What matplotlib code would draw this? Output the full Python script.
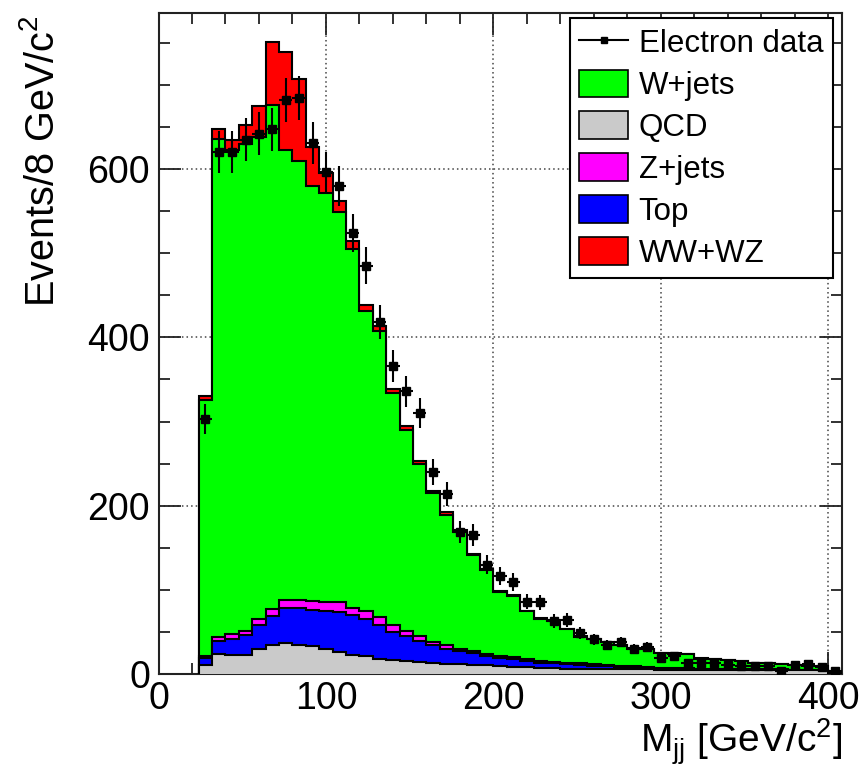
import numpy as np
import matplotlib
matplotlib.use("Agg")
import matplotlib.pyplot as plt
from matplotlib.patches import Patch
from matplotlib.lines import Line2D
from matplotlib.ticker import MultipleLocator

plt.rcParams['font.family'] = ['Liberation Sans', 'DejaVu Sans']
plt.rcParams['mathtext.fontset'] = 'custom'
plt.rcParams['mathtext.rm'] = 'Liberation Sans'
plt.rcParams['mathtext.it'] = 'Liberation Sans:italic'
plt.rcParams['mathtext.bf'] = 'Liberation Sans:bold'

# ---- binning (GeV/c^2) ----
bin_low = 24
bin_width = 8
n_bins = 48

# ---- stacked MC components (events / bin) ----
qcd = [11, 24, 22, 22, 30, 34, 36.4, 35, 33, 30, 26, 23, 21, 18, 17, 15,
       14, 13, 12.3, 12, 11, 11, 9.5, 8.7, 7.9, 7.1, 6.7, 6.5, 6, 6, 5.8, 5.5,
       5.5, 5.5, 5, 5, 5, 5, 5, 4.8, 4.8, 4.5, 4.5, 4.5, 4.5, 4.3, 4.3, 1.5]
top = [8, 15, 20, 24, 28.6, 34.5, 42.6, 44, 43.4, 45, 47.7, 46.7, 44, 40.6, 33, 29.8,
       25.6, 21, 17.7, 15, 14, 10, 9.1, 8.7, 7.5, 6.4, 6, 5, 4.7, 4, 3.7, 3.2,
       3, 2, 1.5, 1.5, 1.2, 1, 1, 1, 0.8, 0.8, 0.8, 0.7, 0.6, 0.6, 0.6, 0.3]
zjets = [2, 5, 5.5, 5.5, 6.4, 9.1, 9, 9, 10.6, 11, 11.3, 8.7, 10, 8.7, 7.8, 5.9,
         5.2, 4, 4, 2.7, 2, 2.8, 2.8, 2.4, 2, 2.3, 2, 2, 2, 1.9, 1.2, 0.8,
         0.5, 0.5, 0.5, 0.4, 0.4, 0.3, 0.3, 0.3, 0.3, 0.3, 0.3, 0.2, 0.2, 0.2, 0.2, 0.1]
wjets = [304, 592, 574.5, 578.5, 573, 598.4, 534, 521, 493, 486, 464, 426, 356, 340.7, 275.7, 239.3,
         205.2, 177.4, 155, 139.3, 114, 99.2, 76.6, 73.2, 57.1, 49.7, 48.8, 40, 31.8, 29.6, 27.3, 24.5,
         21, 21.5, 18, 17.4, 17, 12.1, 11.3, 10.3, 9.3, 7, 7, 6, 5.3, 4.3, 4.3, 0.9]
wwwz = [5, 11, 12, 22, 37, 75, 117, 98, 46, 23, 13, 10.5, 7, 5, 5, 4.6,
        2.7, 2.4, 3.5, 2, 1.6, 1.4, 1, 1, 0.7, 0.5, 0.5, 0.5, 0.5, 0.5, 0.4, 0.5,
        0.5, 0.2, 0.3, 0.3, 0.2, 0.2, 0.2, 0.2, 0.2, 0.1, 0.1, 0.1, 0.1, 0.1, 0.1, 0.0]

# ---- electron data ----
data = [303, 620, 620, 635, 642, 647, 682, 684, 631, 596, 580, 524, 485, 418, 366, 336,
        310, 240, 214, 169, 165, 130, 116, 109, 86, 85, 63, 64, 49, 41, 35, 38,
        30, 32, 19, 21, 13, 13, 13, 11, 9, 10, 10, 4, 11, 12, 8, 4]

labels = ['W+jets', 'QCD', 'Z+jets', 'Top', 'WW+WZ']
colors = {'W+jets': '#00ff00', 'QCD': '#cacaca', 'Z+jets': '#ff00ff',
          'Top': '#0000ff', 'WW+WZ': '#ff0000'}

edges = bin_low + bin_width * np.arange(n_bins + 1)
centers = 0.5 * (edges[:-1] + edges[1:])

W, H = 867, 771
fig = plt.figure(figsize=(W / 100, H / 100), dpi=100)
ax = fig.add_axes([158.5 / W, 1 - 674 / H, (841.7 - 158.5) / W, (674 - 13.3) / H])

# cumulative stack (bottom -> top: QCD, Top, Z+jets, W+jets, WW+WZ)
stack_order = [('QCD', qcd), ('Top', top), ('Z+jets', zjets), ('W+jets', wjets), ('WW+WZ', wwwz)]
cum = np.zeros(n_bins)
cums = []
for name, vals in stack_order:
    cum = cum + np.asarray(vals, dtype=float)
    cums.append((name, cum.copy()))

for i, (name, c) in enumerate(reversed(cums)):
    ax.stairs(c, edges, baseline=0, fill=True, facecolor=colors[name],
              edgecolor='black', linewidth=1.5, zorder=2 + i)

d = np.asarray(data, dtype=float)
ax.errorbar(centers, d, xerr=bin_width / 2, yerr=np.sqrt(d), fmt='s', color='black',
            ms=6, elinewidth=1.5, capsize=0, zorder=20)

ax.set_xlim(0, 408)
ax.set_ylim(0, 785)
ax.xaxis.set_major_locator(MultipleLocator(100))
ax.xaxis.set_minor_locator(MultipleLocator(20))
ax.yaxis.set_major_locator(MultipleLocator(200))
ax.yaxis.set_minor_locator(MultipleLocator(50))
ax.grid(True, which='major', color='#444444', linestyle=(0, (1, 2)), linewidth=1.1, zorder=0)
ax.set_axisbelow(True)

ax.tick_params(which='both', direction='in', top=True, right=True, width=1.3,
               labelsize=27, color='#222222')
ax.tick_params(which='major', length=16)
ax.tick_params(which='minor', length=8)
ax.tick_params(axis='y', which='both', pad=6)
ax.tick_params(axis='x', which='both', pad=5)
for s in ax.spines.values():
    s.set_linewidth(1.5)
    s.set_color('#222222')

ax.set_ylabel('Events/8 GeV/c$^{2}$', fontsize=28.5, loc='top')
ax.yaxis.set_label_coords(-0.141, 0.997)
ax.set_xlabel('M$_{\\mathrm{jj}}$ [GeV/c$^{2}$]', fontsize=28, loc='right')
ax.xaxis.set_label_coords(1.0, -0.064)

handles = [Line2D([0], [0], color='black', marker='s', ms=5, lw=1.5)]
handles += [Patch(facecolor=colors[l], edgecolor='black', linewidth=1.2) for l in labels]
leg = ax.legend(handles, ['Electron data'] + labels, loc='upper right',
                bbox_to_anchor=(832.7 / W, 1 - 18.3 / H), bbox_transform=fig.transFigure,
                fontsize=22.5, frameon=True, fancybox=False, edgecolor='black', framealpha=1,
                borderpad=0.3, handlelength=1.55, handleheight=1.0, handletextpad=0.35,
                labelspacing=0.325, borderaxespad=0)
leg.get_frame().set_linewidth(1.5)
leg.set_zorder(30)

fig.savefig('out.png', dpi=100)
